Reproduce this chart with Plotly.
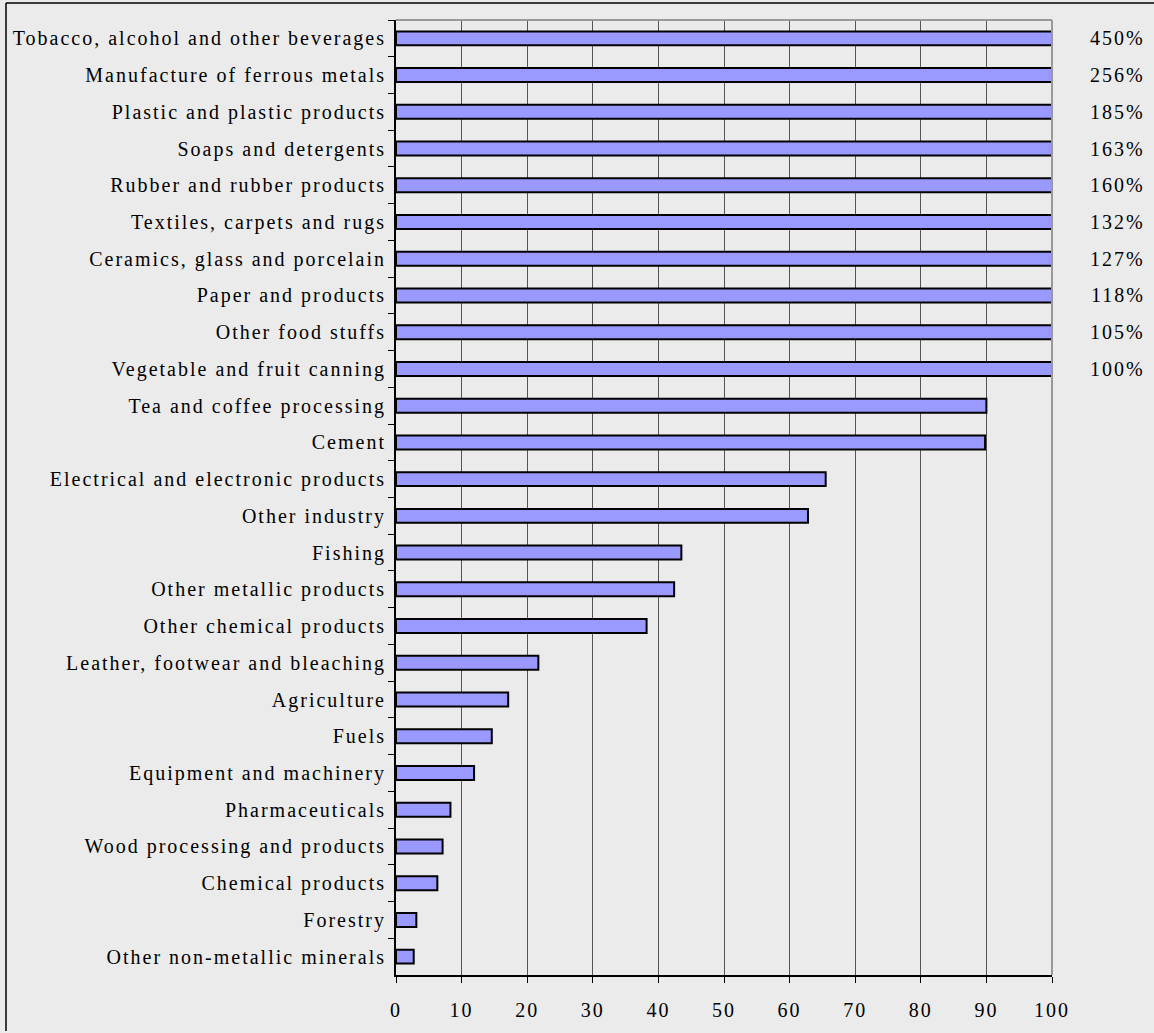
import plotly.graph_objects as go

categories = [
    "Tobacco, alcohol and other beverages",
    "Manufacture of ferrous metals",
    "Plastic and plastic products",
    "Soaps and detergents",
    "Rubber and rubber products",
    "Textiles, carpets and rugs",
    "Ceramics, glass and porcelain",
    "Paper and products",
    "Other food stuffs",
    "Vegetable and fruit canning",
    "Tea and coffee processing",
    "Cement",
    "Electrical and electronic products",
    "Other industry",
    "Fishing",
    "Other metallic products",
    "Other chemical products",
    "Leather, footwear and bleaching",
    "Agriculture",
    "Fuels",
    "Equipment and machinery",
    "Pharmaceuticals",
    "Wood processing and products",
    "Chemical products",
    "Forestry",
    "Other non-metallic minerals",
]
# values shown on a 0-100 scale (bars capped at 100)
values = [100, 100, 100, 100, 100, 100, 100, 100, 100, 100,
          90.0, 89.8, 65.5, 62.8, 43.5, 42.4, 38.2, 21.7, 17.1, 14.6,
          11.9, 8.3, 7.1, 6.3, 3.1, 2.7]
# true values of the capped bars
capped_labels = ["450%", "256%", "185%", "163%", "160%", "132%", "127%",
                 "118%", "105%", "100%"]
x_ticks = [0, 10, 20, 30, 40, 50, 60, 70, 80, 90, 100]

FONT = "Liberation Serif"
W, H = 1154, 1033
L, R, T, B = 396, 102, 20, 56
pw, ph = W - L - R, H - T - B

fig = go.Figure()
fig.add_trace(go.Bar(
    x=values, y=categories, orientation="h",
    marker=dict(color="#9999FF", line=dict(color="black", width=2)),
    width=0.38, showlegend=False, hoverinfo="x+y",
))

for cat, lab in zip(categories, capped_labels):
    fig.add_annotation(x=1.1, xref="paper", y=cat, yref="y", text=lab,
                       showarrow=False, xanchor="center", yanchor="middle",
                       font=dict(family=FONT, size=20, color="black"))

def px_x(p):
    return (p - L) / pw

def px_y(p):
    return (H - B - p) / ph

shapes = [
    # plot area top and right border (gray)
    dict(type="line", xref="paper", yref="paper", x0=0, x1=1, y0=1, y1=1,
         line=dict(color="#999999", width=2)),
    dict(type="line", xref="paper", yref="paper", x0=1, x1=1, y0=0, y1=1,
         line=dict(color="#999999", width=2)),
    # figure frame (left and top edges visible)
    dict(type="line", xref="paper", yref="paper", x0=px_x(6), x1=px_x(1154),
         y0=px_y(3), y1=px_y(3), line=dict(color="black", width=1.5)),
    dict(type="line", xref="paper", yref="paper", x0=px_x(6), x1=px_x(6),
         y0=px_y(3), y1=px_y(1033), line=dict(color="black", width=1.5)),
]

fig.update_layout(
    width=W, height=H,
    margin=dict(l=L, r=R, t=T, b=B, pad=0),
    paper_bgcolor="#EBEBEB", plot_bgcolor="#EBEBEB",
    font=dict(family=FONT, size=20, color="black"),
    bargap=0.62,
    shapes=shapes,
)
fig.update_xaxes(
    range=[0, 100], tickvals=x_ticks, ticktext=[str(t) for t in x_ticks],
    showgrid=True, gridcolor="#555555", gridwidth=1,
    showline=True, linecolor="black", linewidth=2,
    ticks="outside", ticklen=6, tickcolor="black", tickwidth=1,
    tickfont=dict(family=FONT, size=20), zeroline=False,
    ticklabelstandoff=10,
)
fig.update_yaxes(
    autorange="reversed", showgrid=False,
    showline=True, linecolor="black", linewidth=2,
    ticks="outside", tickson="boundaries", ticklen=6, tickcolor="black",
    tickfont=dict(family=FONT, size=20), ticklabelstandoff=4,
)

post = """
document.body.style.margin = '0';
var st = document.createElement('style');
st.innerHTML = '.main-svg text { letter-spacing: 2px; }';
document.head.appendChild(st);
"""
fig.write_html("out.html", post_script=post,
               config={"displayModeBar": False})
